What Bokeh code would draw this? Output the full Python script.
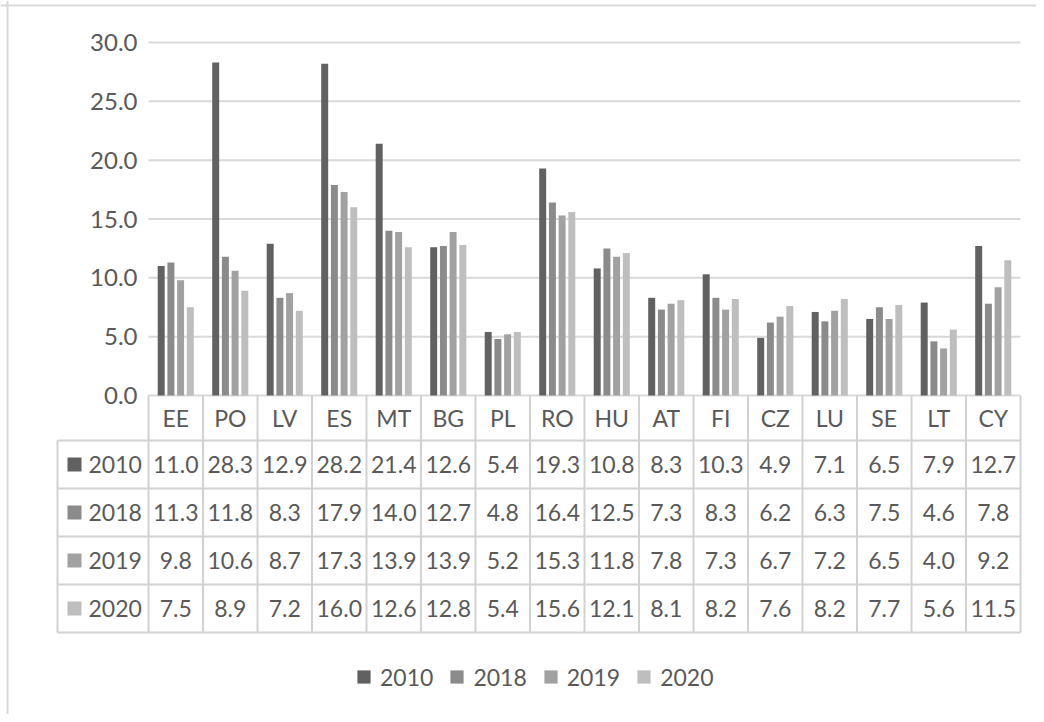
from bokeh.plotting import figure
from bokeh.models import (Range1d, ColumnDataSource, Legend, LegendItem, Span)
from bokeh.core.properties import value
from bokeh.transform import dodge
from bokeh.embed import file_html
from bokeh.resources import INLINE

# ---------------- data ----------------
categories = ["EE", "PO", "LV", "ES", "MT", "BG", "PL", "RO", "HU", "AT", "FI", "CZ", "LU", "SE", "LT", "CY"]
years = ["2010", "2018", "2019", "2020"]
v2010 = [11.0, 28.3, 12.9, 28.2, 21.4, 12.6, 5.4, 19.3, 10.8, 8.3, 10.3, 4.9, 7.1, 6.5, 7.9, 12.7]
v2018 = [11.3, 11.8, 8.3, 17.9, 14.0, 12.7, 4.8, 16.4, 12.5, 7.3, 8.3, 6.2, 6.3, 7.5, 4.6, 7.8]
v2019 = [9.8, 10.6, 8.7, 17.3, 13.9, 13.9, 5.2, 15.3, 11.8, 7.8, 7.3, 6.7, 7.2, 6.5, 4.0, 9.2]
v2020 = [7.5, 8.9, 7.2, 16.0, 12.6, 12.8, 5.4, 15.6, 12.1, 8.1, 8.2, 7.6, 8.2, 7.7, 5.6, 11.5]
y_ticks = [0, 5, 10, 15, 20, 25, 30]

series = [v2010, v2018, v2019, v2020]
colors = ["#616161", "#8b8b8b", "#a1a1a1", "#bebebe"]
TXT = "#595959"
FONT = "Lato"
LINE = "#d2d2d2"
GRID = "#d9d9d9"
n = len(categories)
nr = len(years)
centers = [i + 0.5 for i in range(n)]

# ---------------- geometry (pixels) ----------------
W, H = 1036, 714
COLW = 54.5            # width of one category column
LEFTW = 91.0           # width of the row-header column
X0 = 148.0             # canvas x of category 0 left edge
Y0 = 395.0             # canvas y of value 0
PXV = 353.0 / 30.0     # pixels per value unit
ROWH = 48.0            # table row height
HDR = 45.0             # header row height
TY0 = Y0 + HDR         # canvas y of table header bottom

p = figure(width=W, height=H,
           x_range=Range1d(-X0 / COLW, (W - X0) / COLW),
           y_range=Range1d(-(H - Y0) / PXV, Y0 / PXV),
           output_backend="svg", toolbar_location=None,
           x_axis_location=None, y_axis_location=None, min_border=0)
p.extra_y_ranges = {"table": Range1d(-(H - TY0) / ROWH, TY0 / ROWH)}
p.outline_line_color = None
p.grid.visible = False
p.background_fill_color = "white"
p.border_fill_color = "white"

# horizontal value grid
p.segment(x0=[0] * len(y_ticks), x1=[n] * len(y_ticks), y0=y_ticks, y1=y_ticks,
          line_color=GRID, line_width=2)
# y tick labels
p.text(x=[0] * len(y_ticks), y=y_ticks, text=[f"{t:.1f}" for t in y_ticks], x_offset=-11,
       text_align="right", text_baseline="middle",
       text_font=value(FONT), text_font_size="24px", text_color=TXT)

# bars
src = ColumnDataSource(dict(x=centers, **{y: s for y, s in zip(years, series)}))
pitch = 0.178
bw = 0.128
for k, (yr, c) in enumerate(zip(years, colors)):
    off = (k - 1.5) * pitch
    p.vbar(x=dodge("x", off, range=p.x_range), top=yr, width=bw, source=src,
           fill_color=c, line_color=None)

# ---------------- data table ----------------
xl = -LEFTW / COLW
hdr_top = HDR / ROWH
p.segment(x0=[xl] * (nr + 1), x1=[n] * (nr + 1), y0=[-r for r in range(nr + 1)],
          y1=[-r for r in range(nr + 1)], line_color=LINE, line_width=2, y_range_name="table")
p.segment(x0=list(range(n + 1)), x1=list(range(n + 1)), y0=[-nr] * (n + 1), y1=[hdr_top] * (n + 1),
          line_color=LINE, line_width=2, y_range_name="table")
p.segment(x0=[xl], x1=[xl], y0=[-nr], y1=[0], line_color=LINE, line_width=2, y_range_name="table")

# header labels
p.text(x=centers, y=[hdr_top / 2] * n, text=categories, text_align="center", text_baseline="middle",
       text_font=value(FONT), text_font_size="23px", text_color=TXT, y_range_name="table")

# values
tx, ty, tt = [], [], []
for r, s in enumerate(series):
    for i, v in enumerate(s):
        tx.append(centers[i])
        ty.append(-(r + 0.5))
        tt.append(f"{v:.1f}")
p.text(x=tx, y=ty, text=tt, text_align="center", text_baseline="middle",
       text_font=value(FONT), text_font_size="23px", text_color=TXT, y_range_name="table")

# row headers
ry = [-(r + 0.5) for r in range(nr)]
p.scatter(x=[xl + 17 / COLW] * nr, y=ry, marker="square", size=14,
          fill_color=colors, line_color=None, y_range_name="table")
p.text(x=[xl + 31 / COLW] * nr, y=ry, text=years, text_align="left", text_baseline="middle",
       text_font=value(FONT), text_font_size="23px", text_color=TXT, y_range_name="table")

# legend (square swatches)
items = []
for yr, c in zip(years, colors):
    r = p.scatter(x=[-100], y=[-100], marker="square", size=13, fill_color=c, line_color=None)
    items.append(LegendItem(label=yr, renderers=[r]))
legend = Legend(items=items, orientation="horizontal", location=(347, 21),
                glyph_width=33, glyph_height=33, label_standoff=0, spacing=7,
                padding=0, margin=0, border_line_color=None, background_fill_alpha=0,
                label_text_font=FONT, label_text_font_size="23px", label_text_color=TXT)
p.add_layout(legend, "center")

# outer frame (left and top edges)
p.add_layout(Span(location=(7 - X0) / COLW, dimension="height", line_color=GRID, line_width=2))
p.add_layout(Span(location=(Y0 - 5) / PXV, dimension="width", line_color=GRID, line_width=2))

open("out.html", "w").write(file_html(p, INLINE))
